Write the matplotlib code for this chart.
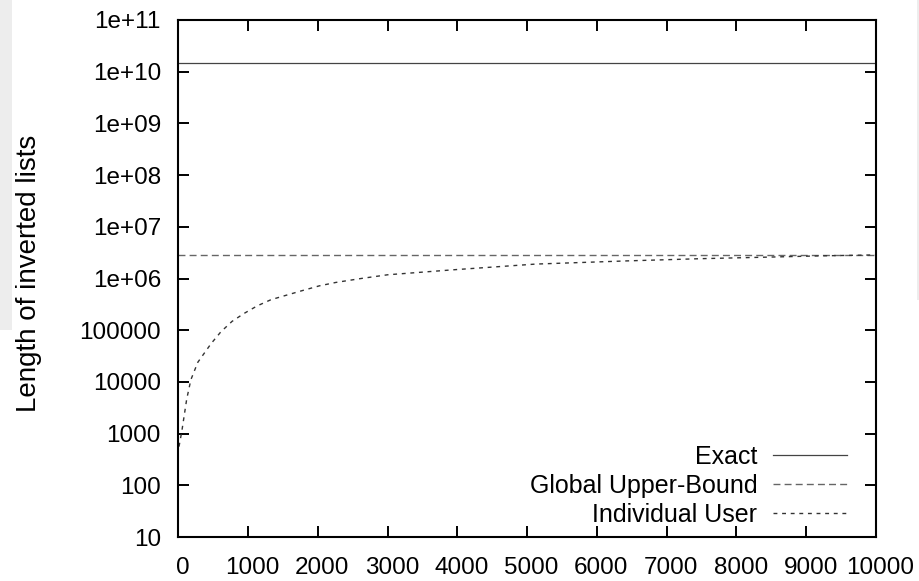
import matplotlib
matplotlib.use("Agg")
import matplotlib.pyplot as plt
from matplotlib.patches import Rectangle
from matplotlib.ticker import FixedLocator, FixedFormatter
from matplotlib.transforms import ScaledTranslation

plt.rcParams['font.family'] = ['Liberation Sans', 'DejaVu Sans']
plt.rcParams['lines.scale_dashes'] = False

# Data
exact_value = 1.5e10
global_upper_bound = 2.86e6
x_range = [0, 10000]

user_x = [10, 50, 120, 180, 280, 470, 610, 770, 940, 1130, 1330, 1560, 1790,
          2020, 2260, 2620, 3000, 3930, 5120, 6430, 7500, 8500, 9200, 10000]
user_y = [560, 1100, 4600, 1.1e4, 2.4e4, 5.5e4, 9.3e4, 1.48e5, 2.1e5, 2.95e5,
          3.9e5, 4.8e5, 5.9e5, 7.2e5, 8.4e5, 1.0e6, 1.18e6, 1.47e6, 1.9e6,
          2.19e6, 2.42e6, 2.6e6, 2.74e6, 2.86e6]

x_ticks = [0, 1000, 2000, 3000, 4000, 5000, 6000, 7000, 8000, 9000, 10000]
y_ticks = [10, 100, 1000, 1e4, 1e5, 1e6, 1e7, 1e8, 1e9, 1e10, 1e11]
y_tick_labels = ["10", "100", "1000", "10000", "100000", "1e+06", "1e+07",
                 "1e+08", "1e+09", "1e+10", "1e+11"]

W, H = 920, 581
fig = plt.figure(figsize=(W / 100, H / 100), dpi=100)
fig.add_artist(Rectangle((0, 1 - 330 / H), 12 / W, 330 / H, transform=fig.transFigure,
                         facecolor='#ededed', edgecolor='none', zorder=-10))
fig.add_artist(Rectangle((917 / W, 1 - 300 / H), 3 / W, 300 / H, transform=fig.transFigure,
                         facecolor='#ededed', edgecolor='none', zorder=-10))

ax = fig.add_axes([178.3 / W, 1 - 537 / H, (876 - 178.3) / W, (537 - 20) / H])
ax.set_yscale('log')
ax.set_xlim(x_range)
ax.set_ylim(10, 1e11)

ax.plot(x_range, [exact_value, exact_value], color='#444444', lw=0.9,
        linestyle='-', label='Exact')
ax.plot(x_range, [global_upper_bound, global_upper_bound], color='#666666', lw=1.0,
        linestyle=(0, (5, 3)), label='Global Upper-Bound')
ax.plot(user_x, user_y, color='#333333', lw=1.0,
        linestyle=(0, (2.8, 3.4)), label='Individual User')

ax.xaxis.set_major_locator(FixedLocator(x_ticks))
ax.yaxis.set_major_locator(FixedLocator(y_ticks))
ax.yaxis.set_major_formatter(FixedFormatter(y_tick_labels))
ax.yaxis.set_minor_locator(FixedLocator([]))
ax.tick_params(axis='both', which='major', direction='in', length=8, width=1.4,
               top=True, right=True, labelsize=17.5, colors='black')
ax.tick_params(axis='y', pad=12.5)
ax.tick_params(axis='x', pad=14.5)
for s in ax.spines.values():
    s.set_linewidth(1.5)
    s.set_color('black')

offset = ScaledTranslation(4.5 / 100, 0, fig.dpi_scale_trans)
for lbl in ax.get_xticklabels():
    lbl.set_transform(lbl.get_transform() + offset)

ax.set_ylabel('Length of inverted lists', fontsize=20)
ax.yaxis.set_label_coords(-0.195, 0.509)

leg = ax.legend(loc='lower right', bbox_to_anchor=(0.973, 0.0), frameon=False,
                markerfirst=False, fontsize=18, handlelength=2.96,
                handletextpad=0.64, labelspacing=0.2, borderaxespad=0)

fig.savefig('out.png', dpi=100)
